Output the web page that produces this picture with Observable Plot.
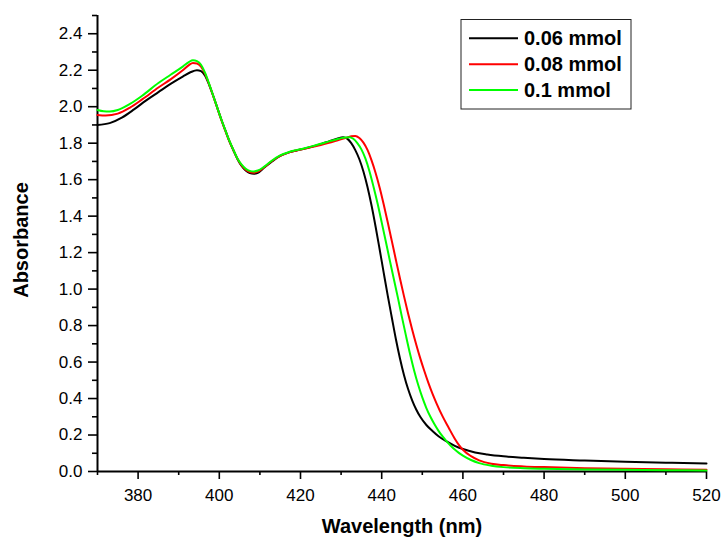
<!DOCTYPE html>
<html>
<head>
<meta charset="utf-8">
<script src="https://cdn.jsdelivr.net/npm/d3@7"></script>
<script src="https://cdn.jsdelivr.net/npm/@observablehq/plot@0.6"></script>
<style>
  html, body { margin: 0; padding: 0; background: #ffffff; }
  #chart { width: 726px; height: 538px; }
</style>
</head>
<body>
<div id="chart"></div>
<script>
// ---------------- data ----------------
const seriesNames = ["0.06 mmol", "0.08 mmol", "0.1 mmol"];
const seriesColors = ["#000000", "#ff0000", "#00ff00"];

const wl06 = [370,373,376,379,382,385,388,391,393,394.5,395.5,396.5,397.5,398.5,399.5,400.5,401.5,402.5,403.5,404.5,405.5,406.5,407.5,408.5,409.5,411,413,415,417,419,421,423,425,427,429,430.5,431.5,432.5,433.5,434.5,435.5,436.5,437.5,438.5,439.5,440.5,441.5,442.5,443.5,444.5,445.5,446.5,447.5,448.5,449.5,451,452.5,454,456,458,460,463,466,470,475,480,490,500,510,520];
const abs06 = [1.900,1.910,1.940,1.985,2.035,2.080,2.125,2.165,2.190,2.200,2.195,2.170,2.120,2.060,1.995,1.930,1.870,1.810,1.760,1.712,1.675,1.650,1.636,1.633,1.638,1.665,1.700,1.730,1.748,1.760,1.770,1.782,1.795,1.810,1.825,1.833,1.825,1.800,1.762,1.712,1.645,1.560,1.458,1.342,1.217,1.089,0.963,0.843,0.725,0.620,0.528,0.452,0.390,0.340,0.300,0.255,0.222,0.193,0.165,0.141,0.123,0.104,0.093,0.083,0.075,0.068,0.060,0.053,0.048,0.044];

const wl08 = [370,372,375,378,381,385,388,391,392.5,393.5,394.5,395.5,396.5,397.5,398.5,399.5,400.5,401.5,402.5,403.5,404.5,405.5,406.5,407.5,408.5,409.5,411,413,415,417,419,421,423,425,427,429,431,432.5,433.5,434.5,435.5,436.5,437.5,438.5,439.5,440.5,441.5,442.5,443.5,444.5,445.5,446.5,447.5,448.5,449.5,450.5,451.5,452.5,453.5,455,456.5,458,459,460,462,464,467,470,475,480,490,500,510,520];
const abs08 = [1.955,1.952,1.962,1.995,2.040,2.105,2.150,2.200,2.228,2.240,2.237,2.220,2.180,2.122,2.058,1.993,1.927,1.867,1.810,1.760,1.713,1.678,1.655,1.642,1.638,1.644,1.667,1.702,1.730,1.748,1.760,1.770,1.780,1.790,1.802,1.815,1.828,1.838,1.840,1.828,1.803,1.763,1.706,1.637,1.556,1.464,1.365,1.263,1.160,1.058,0.960,0.866,0.778,0.696,0.620,0.551,0.486,0.427,0.374,0.302,0.240,0.180,0.146,0.119,0.084,0.061,0.043,0.035,0.028,0.024,0.018,0.015,0.012,0.010];

const wl10 = [370,371.5,373,375,378,381,385,388,391,392.5,393.5,394.5,395.5,396.5,397.5,398.5,399.5,400.5,401.5,402.5,403.5,404.5,405.5,406.5,407.5,408.5,409.5,411,413,415,417,419,421,423,425,427,429,430.5,432,433,434,435,436,437,438,439,440,441,442,443,444,445,446,447,448,449,450,451,452,453,454,455,456,457,458,459,460,462,464,467,470,475,480,490,500,510,520];
const abs10 = [1.982,1.975,1.974,1.982,2.015,2.060,2.130,2.175,2.220,2.245,2.255,2.250,2.230,2.185,2.125,2.060,1.995,1.930,1.870,1.812,1.762,1.715,1.682,1.660,1.648,1.645,1.650,1.670,1.705,1.733,1.750,1.762,1.772,1.784,1.797,1.810,1.822,1.830,1.833,1.824,1.800,1.766,1.715,1.645,1.560,1.468,1.366,1.262,1.157,1.054,0.952,0.845,0.742,0.643,0.553,0.474,0.406,0.348,0.300,0.259,0.223,0.192,0.165,0.141,0.120,0.102,0.087,0.063,0.046,0.032,0.024,0.018,0.015,0.011,0.009,0.007,0.006];

const xMajorTicks = [380, 400, 420, 440, 460, 480, 500, 520];
const xMinorTicks = [370, 390, 410, 430, 450, 470, 490, 510];
const yMajorTicks = [0.0, 0.2, 0.4, 0.6, 0.8, 1.0, 1.2, 1.4, 1.6, 1.8, 2.0, 2.2, 2.4];
const yMinorTicks = [0.1, 0.3, 0.5, 0.7, 0.9, 1.1, 1.3, 1.5, 1.7, 1.9, 2.1, 2.3, 2.5];
const xTitle = "Wavelength (nm)";
const yTitle = "Absorbance";

// ---------------- build table ----------------
const allWl = [wl06, wl08, wl10];
const allAbs = [abs06, abs08, abs10];
const rows = [];
seriesNames.forEach((name, k) => {
  allWl[k].forEach((w, i) => rows.push({ wl: w, abs: allAbs[k][i], series: name }));
});

const FONT = "'Liberation Sans', Arial, Helvetica, sans-serif";

const svgNode = Plot.plot({
  width: 726,
  height: 538,
  marginLeft: 97,
  marginRight: 20,
  marginTop: 15,
  marginBottom: 67,
  style: { fontFamily: FONT, background: "#ffffff", color: "#000000" },
  x: { domain: [370, 520] },
  y: { domain: [0, 2.5] },
  color: { domain: seriesNames, range: seriesColors },
  marks: [
    Plot.axisY({ ticks: yMajorTicks, tickSize: 9, tickPadding: 6, tickFormat: d3.format(".1f"), fontSize: 17, strokeWidth: 1.6, label: null }),
    Plot.axisY({ ticks: yMinorTicks, tickSize: 5, tickFormat: () => "", strokeWidth: 1.6, label: null }),
    Plot.axisX({ ticks: xMajorTicks, tickSize: 8, tickPadding: 9, fontSize: 17, strokeWidth: 1.6, label: null }),
    Plot.axisX({ ticks: xMinorTicks, tickSize: 4, tickFormat: () => "", strokeWidth: 1.6, label: null }),
    Plot.ruleY([0], { strokeWidth: 2 }),
    Plot.ruleX([370], { strokeWidth: 2 }),
    Plot.line(rows, { x: "wl", y: "abs", z: "series", stroke: "series", strokeWidth: 2, curve: "monotone-x" })
  ]
});

const svg = d3.select(svgNode);

// axis titles
svg.append("text")
  .attr("x", 402).attr("y", 533)
  .attr("text-anchor", "middle")
  .attr("font-family", FONT).attr("font-weight", "bold").attr("font-size", 20)
  .attr("fill", "#000")
  .text(xTitle);

svg.append("text")
  .attr("transform", "translate(28,240) rotate(-90)")
  .attr("text-anchor", "middle")
  .attr("font-family", FONT).attr("font-weight", "bold").attr("font-size", 20)
  .attr("fill", "#000")
  .text(yTitle);

// legend
const lg = svg.append("g");
lg.append("rect")
  .attr("x", 461).attr("y", 19.5).attr("width", 170).attr("height", 89.5)
  .attr("fill", "#ffffff").attr("stroke", "#222").attr("stroke-width", 1);
seriesNames.forEach((name, i) => {
  const cy = 38.3 + i * 25.9;
  lg.append("line")
    .attr("x1", 469).attr("x2", 518).attr("y1", cy).attr("y2", cy)
    .attr("stroke", seriesColors[i]).attr("stroke-width", 2);
  lg.append("text")
    .attr("x", 524).attr("y", cy + 7)
    .attr("text-anchor", "start")
    .attr("font-family", FONT).attr("font-weight", "bold").attr("font-size", 20)
    .attr("fill", "#000")
    .text(name);
});

document.getElementById("chart").appendChild(svgNode);
</script>
</body>
</html>
